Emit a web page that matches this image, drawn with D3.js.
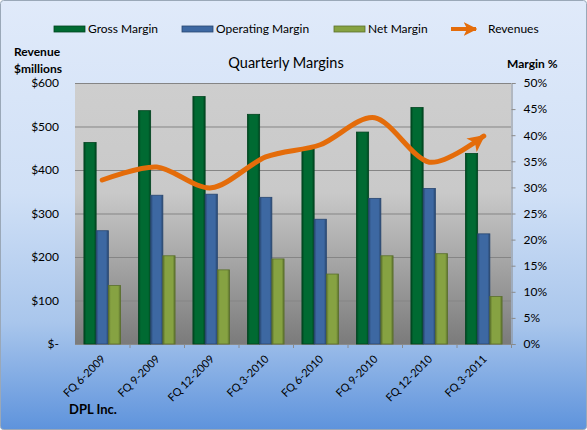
<!DOCTYPE html>
<html>
<head>
<meta charset="utf-8">
<script src="https://cdn.jsdelivr.net/npm/d3@7"></script>
<style>
  body { margin: 0; background: #fff; }
  text { font-family: Lato, "Open Sans", sans-serif; fill: #000; }
</style>
</head>
<body>
<div class="chart"></div>
<script>
(() => {
  const quarters = ["FQ 6-2009", "FQ 9-2009", "FQ 12-2009", "FQ 3-2010",
    "FQ 6-2010", "FQ 9-2010", "FQ 12-2010", "FQ 3-2011"];
  const grossMargin = [38.6, 44.7, 47.4, 44.0, 37.5, 40.6, 45.3, 36.5];
  const operatingMargin = [21.7, 28.5, 28.7, 28.1, 23.9, 27.9, 29.8, 21.1];
  const netMargin = [11.2, 16.9, 14.2, 16.3, 13.4, 16.9, 17.3, 9.1];
  const revenues = [377, 407, 359, 430, 458, 520, 418, 478];
  const revenueTicks = [0, 100, 200, 300, 400, 500, 600];
  const marginTicks = [0, 5, 10, 15, 20, 25, 30, 35, 40, 45, 50];

  const series = [
    { name: "Gross Margin", values: grossMargin, base: "#006a32", edge: "#00441f" },
    { name: "Operating Margin", values: operatingMargin, base: "#3d68a2", edge: "#284670" },
    { name: "Net Margin", values: netMargin, base: "#86a242", edge: "#5a6f2c" },
  ];
  const orange = "#e46c0a";

  const width = 587, height = 430;
  const plot = { left: 75, right: 511, top: 83, bottom: 344 };

  const svg = d3.select(".chart").append("svg")
    .attr("width", width).attr("height", height);
  const defs = svg.append("defs");

  const bg = defs.append("linearGradient").attr("id", "bg")
    .attr("x1", 0).attr("y1", 0).attr("x2", 0).attr("y2", 1);
  [[0, "#e0eafa"], [0.45, "#d0e0f6"], [0.75, "#a9c6ec"], [1, "#5e93dc"]]
    .forEach(([o, c]) => bg.append("stop").attr("offset", o).attr("stop-color", c));

  const pg = defs.append("linearGradient").attr("id", "plotbg")
    .attr("x1", 0).attr("y1", 0).attr("x2", 0).attr("y2", 1);
  [[0, "#cecece"], [0.42, "#c9c9c9"], [1, "#7b7b7b"]]
    .forEach(([o, c]) => pg.append("stop").attr("offset", o).attr("stop-color", c));

  series.forEach((s, i) => {
    const g = defs.append("linearGradient").attr("id", "bar" + i)
      .attr("x1", 0).attr("y1", 0).attr("x2", 1).attr("y2", 0);
    [[0, s.edge], [0.2, s.base], [0.8, s.base], [1, s.edge]]
      .forEach(([o, c]) => g.append("stop").attr("offset", o).attr("stop-color", c));
  });

  defs.append("marker").attr("id", "arrow")
    .attr("viewBox", "0 0 10 10").attr("refX", 9).attr("refY", 5)
    .attr("markerWidth", 3.4).attr("markerHeight", 3.4)
    .attr("markerUnits", "strokeWidth").attr("orient", "auto")
    .append("path").attr("d", "M0,0L10,5L0,10L2.5,5Z").attr("fill", orange);

  svg.append("rect").attr("x", 0.5).attr("y", 0.5)
    .attr("width", width - 1).attr("height", height - 1).attr("rx", 3)
    .attr("fill", "url(#bg)").attr("stroke", "#9aa8b8");

  svg.append("rect").attr("x", plot.left).attr("y", plot.top)
    .attr("width", plot.right - plot.left).attr("height", plot.bottom - plot.top)
    .attr("fill", "url(#plotbg)");

  const x = d3.scaleBand().domain(quarters).range([plot.left, plot.right]);
  const xs = d3.scaleBand().domain(series.map((s) => s.name))
    .range([0, x.bandwidth()]).paddingOuter(0.73);
  const yRev = d3.scaleLinear().domain([0, 600]).range([plot.bottom, plot.top]);
  const yPct = d3.scaleLinear().domain([0, 50]).range([plot.bottom, plot.top]);

  // gridlines
  svg.append("g").selectAll("line").data(revenueTicks.slice(1)).enter()
    .append("line")
    .attr("x1", plot.left).attr("x2", plot.right)
    .attr("y1", (d) => yRev(d) + 0.5).attr("y2", (d) => yRev(d) + 0.5)
    .attr("stroke", "#858585").attr("stroke-width", 1);

  // left axis labels
  svg.append("g").selectAll("text").data(revenueTicks).enter()
    .append("text")
    .attr("x", 59).attr("y", (d) => yRev(d)).attr("dy", "0.35em")
    .attr("text-anchor", "end").style("font-size", "12px")
    .text((d) => (d === 0 ? "$-" : "$" + d));

  // right axis
  const rightAxis = svg.append("g")
    .attr("transform", `translate(${plot.right + 0.5},0)`)
    .call(d3.axisRight(yPct).tickValues(marginTicks).tickSize(4).tickPadding(8)
      .tickFormat((d) => d + "%"));
  rightAxis.select(".domain").attr("stroke", "#8a8a8a");
  rightAxis.selectAll("line").attr("stroke", "#8a8a8a");
  rightAxis.selectAll("text").style("font-size", "12px")
    .style("font-family", "Lato, sans-serif").attr("fill", "#000");

  // bottom axis
  const bottom = svg.append("g");
  bottom.append("line").attr("x1", plot.left).attr("x2", plot.right + 4)
    .attr("y1", plot.bottom + 0.5).attr("y2", plot.bottom + 0.5)
    .attr("stroke", "#8a8a8a");
  bottom.selectAll(".tick").data(quarters).enter().append("line")
    .attr("x1", (d) => x(d) + x.bandwidth() + 0.5)
    .attr("x2", (d) => x(d) + x.bandwidth() + 0.5)
    .attr("y1", plot.bottom).attr("y2", plot.bottom + 4)
    .attr("stroke", "#8a8a8a");
  bottom.selectAll("text").data(quarters).enter().append("text")
    .attr("transform", (d) =>
      `translate(${x(d) + x.bandwidth() / 2 + 1},${plot.bottom + 13}) rotate(-45)`)
    .attr("text-anchor", "end").attr("dy", "0.35em")
    .style("font-size", "11px").text((d) => d);

  // bars
  series.forEach((s, i) => {
    svg.append("g").selectAll("rect").data(s.values).enter()
      .append("rect")
      .attr("x", (_, j) => x(quarters[j]) + xs(s.name))
      .attr("y", (d) => yPct(d))
      .attr("width", xs.bandwidth())
      .attr("height", (d) => plot.bottom - yPct(d))
      .attr("fill", `url(#bar${i})`)
      .attr("stroke", s.edge).attr("stroke-width", 0.8);
  });

  // revenue line
  const line = d3.line()
    .x((_, j) => x(quarters[j]) + x.bandwidth() / 2)
    .y((d) => yRev(d))
    .curve(d3.curveCardinal.tension(0.1));
  svg.append("path").datum(revenues)
    .attr("d", line)
    .attr("fill", "none").attr("stroke", orange)
    .attr("stroke-width", 5).attr("stroke-linecap", "round")
    .attr("marker-end", "url(#arrow)");

  // title and axis titles
  svg.append("text").attr("x", 286).attr("y", 68).attr("text-anchor", "middle")
    .style("font-size", "14.5px").text("Quarterly Margins");
  svg.append("text").attr("x", 14).attr("y", 56)
    .style("font-size", "12px").style("font-weight", "bold").text("Revenue");
  svg.append("text").attr("x", 14).attr("y", 73)
    .style("font-size", "12px").style("font-weight", "bold").text("$millions");
  svg.append("text").attr("x", 507).attr("y", 68)
    .style("font-size", "12px").style("font-weight", "bold").text("Margin %");
  svg.append("text").attr("x", 69).attr("y", 414)
    .style("font-size", "13px").style("font-weight", "bold").text("DPL Inc.");

  // legend
  const legendX = [54, 182, 334];
  const legend = svg.append("g");
  series.forEach((s, i) => {
    legend.append("rect").attr("x", legendX[i]).attr("y", 26)
      .attr("width", 31).attr("height", 6)
      .attr("fill", s.base).attr("stroke", s.edge).attr("stroke-width", 0.8);
    legend.append("text").attr("x", legendX[i] + 34).attr("y", 29)
      .attr("dy", "0.35em").style("font-size", "12px").text(s.name);
  });
  legend.append("line").attr("x1", 451).attr("x2", 476)
    .attr("y1", 29).attr("y2", 29)
    .attr("stroke", orange).attr("stroke-width", 4)
    .attr("marker-end", "url(#arrow)");
  legend.append("text").attr("x", 488).attr("y", 29)
    .attr("dy", "0.35em").style("font-size", "12px").text("Revenues");
})();
</script>
</body>
</html>
